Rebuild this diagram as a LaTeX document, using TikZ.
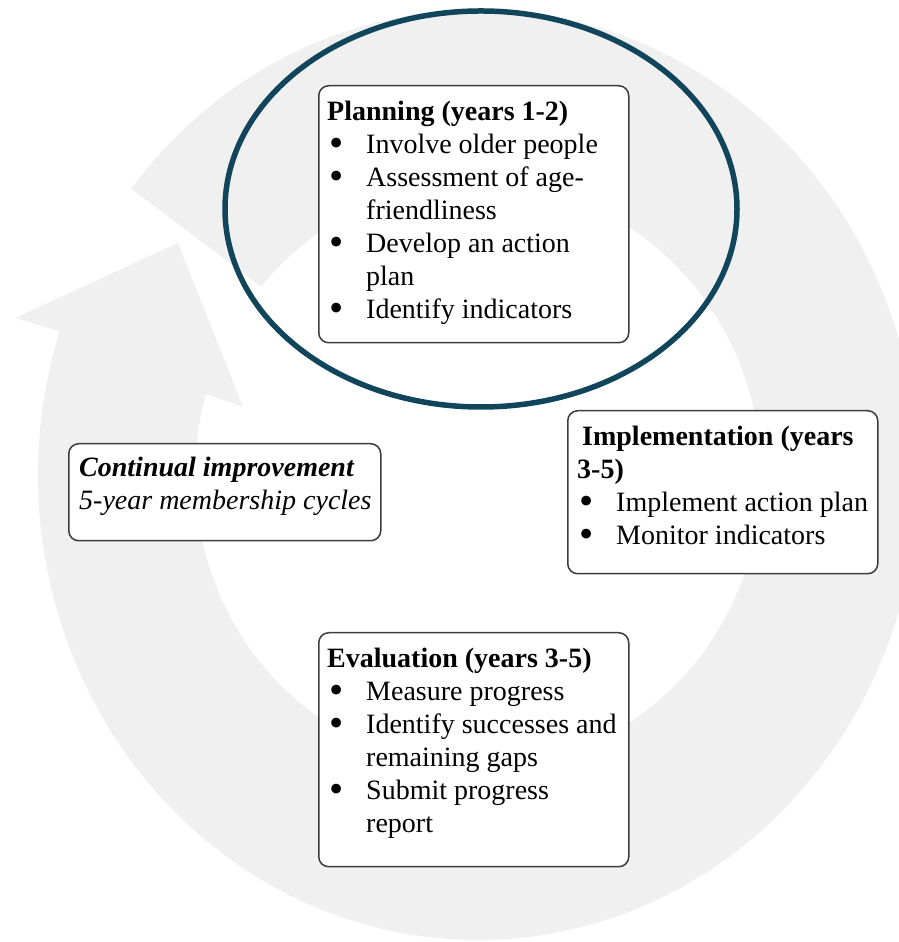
\documentclass[tikz,border=0pt]{standalone}
\usepackage{fontspec}
\setmainfont{Liberation Serif}
\usetikzlibrary{calc}
\definecolor{ringgray}{RGB}{240,240,240}
\definecolor{focusteal}{RGB}{16,69,92}
\definecolor{boxline}{RGB}{60,60,60}
\newcommand{\stagebul}{\makebox[39pt][l]{\hspace*{2pt}\raisebox{-3pt}[0pt][0pt]{\scalebox{1.45}{\textbullet}}}}
\newcommand{\stagecont}{\hspace*{39pt}}

\begin{document}
\begin{tikzpicture}[x=1pt,y=1pt,
  stagebox/.style={draw=boxline,line width=1.5pt,fill=white,rounded corners=10pt,anchor=north west,inner sep=0pt},
  stagetext/.style={anchor=north west,align=left,inner sep=0pt,font=\fontsize{28}{33}\selectfont}]
\useasboundingbox (0,0) rectangle (899,942);
%-------->ring arrow<--------------
\coordinate (ctr) at (478,467);
\fill[ringgray] ($(ctr)+(142:440 and 465)$) arc[start angle=142,end angle=-198,x radius=440,y radius=465]
  -- (15,624) -- (178,699) -- (243,535)
  -- ($(ctr)+(164:283 and 293)$) arc[start angle=-196,end angle=140,x radius=283,y radius=293] -- cycle;
%-------->focus ellipse<--------------
\coordinate (focus) at (481,733);
\draw[focusteal,line width=5.5pt] (focus) ellipse[x radius=256,y radius=198];
%-------->boxes<--------------
\node[stagebox,minimum width=310pt,minimum height=257pt] (plan) at (318,857) {}; % planning
\node[stagebox,minimum width=310pt,minimum height=163pt] (impl) at (567,532) {}; % implementation
\node[stagebox,minimum width=312pt,minimum height=97pt] (cont) at (68,499) {}; % continual
\node[stagebox,minimum width=310pt,minimum height=234pt] (eval) at (318,310) {}; % evaluation
%-------->box texts<--------------
\node[stagetext] (plantxt) at ($(plan.north west)+(9,-16)$) {\textbf{Planning (years 1-2)}\\
  \stagebul Involve older people\\
  \stagebul Assessment of age-\\
  \stagecont friendliness\\
  \stagebul Develop an action\\
  \stagecont plan\\
  \stagebul Identify indicators};
\node[stagetext] (impltxt) at ($(impl.north west)+(10,-16)$) {\hspace*{5pt}\textbf{Implementation (years}\\
  \textbf{3-5)}\\
  \stagebul Implement action plan\\
  \stagebul Monitor indicators};
\node[stagetext] (conttxt) at ($(cont.north west)+(11,-14)$) {\textbf{\textit{Continual improvement}}\\
  \textit{5-year membership cycles}};
\node[stagetext] (evaltxt) at ($(eval.north west)+(9,-16)$) {\textbf{Evaluation (years 3-5)}\\
  \stagebul Measure progress\\
  \stagebul Identify successes and\\
  \stagecont remaining gaps\\
  \stagebul Submit progress\\
  \stagecont report};
\end{tikzpicture}
\end{document}
